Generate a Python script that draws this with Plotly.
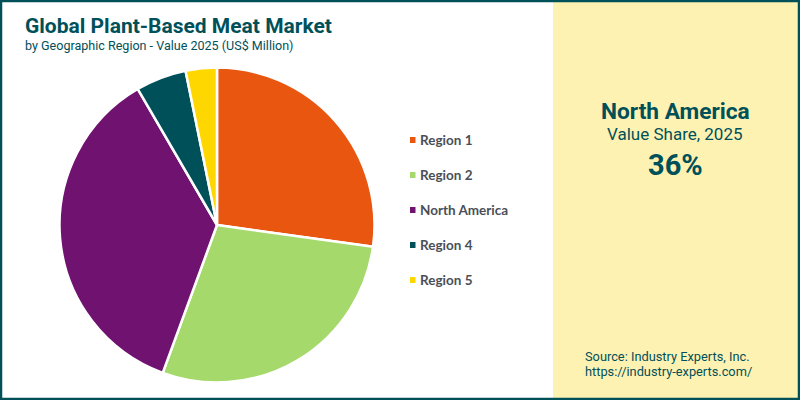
import plotly.graph_objects as go

categories = ["Region 1", "Region 2", "North America", "Region 4", "Region 5"]
shares = [27.2, 28.4, 36.0, 5.2, 3.2]
colors = ["#E8560F", "#A5D96B", "#701270", "#00505A", "#FFD700"]

TEAL = "#00505A"
W, H = 800, 400
def px(x): return x / W
def py(y): return 1 - y / H

fig = go.Figure(go.Pie(
    labels=categories, values=shares, sort=False, direction="clockwise", rotation=0,
    marker=dict(colors=colors, line=dict(color="white", width=2.5)),
    textinfo="none", hoverinfo="label+percent", showlegend=False,
    domain=dict(x=[px(59.5), px(374.5)], y=[py(382.5), py(67.5)]),
))

shapes = [
    dict(type="rect", xref="paper", yref="paper", x0=px(553), x1=1, y0=0, y1=1,
         fillcolor="#FEF2B2", line_width=0, layer="below"),
    dict(type="rect", xref="paper", yref="paper", x0=px(1), x1=px(799), y0=py(399), y1=py(1),
         fillcolor="rgba(0,0,0,0)", line=dict(color=TEAL, width=2.5), layer="above"),
]
annotations = []
def text(x, y, s, size, bold=False, anchor="left", family="Roboto", color=TEAL):
    annotations.append(dict(xref="paper", yref="paper", x=px(x), y=py(y), text=f"<b>{s}</b>" if bold else s,
        showarrow=False, xanchor=anchor, yanchor="middle",
        font=dict(family=family, size=size, color=color)))

text(22.5, 26, "Global Plant-Based Meat Market", 21, True)
text(22.5, 45, "by Geographic Region - Value 2025 (US$ Million)", 12.55)
text(675, 111, "North America", 22.7, True, "center")
text(675, 134, "Value Share, 2025", 17, False, "center")
text(675, 165, "36%", 29, True, "center")
text(583, 356, "Source: Industry Experts, Inc.", 12.8)
text(583, 371, "https://industry-experts.com/", 12.8)

for i, (c, col) in enumerate(zip(categories, colors)):
    yc = 140 + i * 35
    shapes.append(dict(type="rect", xref="paper", yref="paper", x0=px(410), x1=px(415.5),
                       y0=py(yc + 3), y1=py(yc - 3), fillcolor=col, line_width=0))
    text(418, yc, c, 13.5, True, family="Lato", color="#4A4F57")

fig.update_layout(width=W, height=H, margin=dict(l=0, r=0, t=0, b=0), paper_bgcolor="white",
                  shapes=shapes, annotations=annotations)
fig.write_html("out.html", post_script="document.body.style.margin='0';",
               config=dict(displayModeBar=False))
